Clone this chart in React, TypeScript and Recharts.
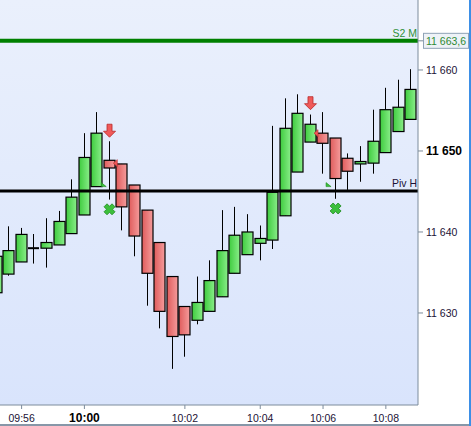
import {
  ComposedChart,
  Bar,
  Scatter,
  XAxis,
  YAxis,
  ReferenceLine,
} from "recharts";

// candle values, one per bar (tick bars, not evenly timed)
const opens = [
  11632.5, 11634.8, 11636.3, 11638.0, 11638.0, 11638.4, 11639.8, 11642.1, 11645.6,
  11648.85, 11648.4, 11645.8, 11642.7, 11638.7, 11634.5, 11630.8, 11629.1, 11630.2,
  11632.0, 11634.9, 11637.2, 11638.6, 11639.0, 11642.0, 11647.4, 11651.1, 11652.2,
  11651.6, 11649.1, 11648.4, 11648.5, 11649.8, 11652.4, 11653.9,
];
const highs = [
  11637.6, 11640.7, 11640.5, 11639.75, 11641.7, 11642.6, 11646.5, 11652.2, 11654.8,
  11651.2, 11648.4, 11645.8, 11642.7, 11638.7, 11634.5, 11630.8, 11634.5, 11636.5,
  11642.7, 11643.1, 11642.2, 11640.8, 11653.1, 11656.5, 11657.0, 11654.5, 11654.8,
  11651.6, 11649.7, 11650.6, 11655.1, 11657.8, 11658.8, 11660.1,
];
const lows = [
  11632.0, 11634.6, 11636.3, 11636.1, 11635.6, 11638.4, 11639.8, 11642.1, 11645.6,
  11644.0, 11640.2, 11637.0, 11630.9, 11628.1, 11623.1, 11624.6, 11628.6, 11630.2,
  11632.0, 11634.9, 11637.2, 11636.5, 11637.9, 11642.0, 11647.4, 11651.1, 11647.2,
  11644.1, 11645.2, 11646.2, 11647.2, 11649.8, 11652.4, 11653.9,
];
const closes = [
  11637.0, 11637.7, 11639.7, 11638.0, 11638.7, 11641.3, 11644.3, 11649.2, 11652.2,
  11647.9, 11643.1, 11639.5, 11634.9, 11630.2, 11627.1, 11627.3, 11631.3, 11634.0,
  11637.7, 11639.6, 11640.0, 11639.2, 11644.9, 11652.8, 11654.65, 11653.3, 11650.95,
  11646.6, 11647.5, 11648.7, 11651.2, 11655.1, 11655.4, 11657.6,
];

const tickIdx = [2, 7, 15, 21, 26, 31];
const tickLabels = ["09:56", "10:00", "10:02", "10:04", "10:06", "10:08"];
const yTicks = [11630, 11640, 11650, 11660];

const s2Level = 11663.6;
const pivLevel = 11645.05;

// signal markers (bar index, price)
const sellArrows = [
  { i: 9, v: 11652.5 },
  { i: 25, v: 11655.9 },
];
const buyCrosses = [
  { i: 9, v: 11642.8 },
  { i: 27, v: 11642.9 },
];
const greenFlags = [
  { i: 8.5, v: 11645.6 },
  { i: 26.4, v: 11645.6 },
];
const redFlags = [
  { i: 9.3, v: 11648.5 },
  { i: 25.28, v: 11652.2 },
];

const candles = opens.map((o, i) => ({
  i,
  open: o,
  high: highs[i],
  low: lows[i],
  close: closes[i],
}));

const FONT = "'Liberation Sans', Arial, sans-serif";
const TEXT = "#1c1236";
const BODY_W = 11;

function Candle(props: any) {
  const { x, y, width, height, payload } = props;
  const { open, close, high, low } = payload;
  const range = high - low;
  const toY = (p: number) => (range === 0 ? y : y + ((high - p) / range) * height);
  // band width gets squeezed by the marker series, so body width is fixed here
  const cx = Math.floor(x + width / 2) + 0.5;
  const left = cx - BODY_W / 2;
  const top = toY(Math.max(open, close));
  const bot = toY(Math.min(open, close));
  const flat = Math.abs(open - close) < 0.01;
  return (
    <g>
      <line x1={cx} x2={cx} y1={y} y2={y + height} stroke="#000" strokeWidth={1} />
      {flat ? (
        <line x1={left} x2={left + BODY_W} y1={top} y2={top} stroke="#000" strokeWidth={2} />
      ) : (
        <rect
          x={left}
          y={top}
          width={BODY_W}
          height={bot - top}
          fill={close > open ? "url(#gUp)" : "url(#gDown)"}
          stroke="#000"
          strokeWidth={1.2}
        />
      )}
    </g>
  );
}

function SellArrow({ cx, cy }: any) {
  return (
    <path
      d={`M${cx - 2.5},${cy - 6.5} h5 v7 h3.5 l-6,6 l-6,-6 h3.5 z`}
      fill="#f05a5a"
      stroke="#b82828"
      strokeWidth={0.8}
    />
  );
}

function BuyCross({ cx, cy }: any) {
  return (
    <path
      d={`M${cx - 5.5},${cy - 2.5} l3,-3 l2.5,2.5 l2.5,-2.5 l3,3 l-2.5,2.5 l2.5,2.5 l-3,3 l-2.5,-2.5 l-2.5,2.5 l-3,-3 l2.5,-2.5 z`}
      fill="#3cbf3c"
      stroke="#1f8a1f"
      strokeWidth={0.8}
      strokeLinejoin="round"
    />
  );
}

function GreenFlag({ cx, cy }: any) {
  return <path d={`M${cx - 2},${cy - 4} l5,4 h-5 z`} fill="#3cbf3c" stroke="#1f8a1f" strokeWidth={0.6} />;
}

function RedFlag({ cx, cy }: any) {
  return <path d={`M${cx},${cy} l4,-3.5 v7 z`} fill="#f05a5a" stroke="#b82828" strokeWidth={0.6} />;
}

function XTick({ x, y, payload }: any) {
  const label = tickLabels[tickIdx.indexOf(payload.value)];
  const bold = label === "10:00";
  return (
    <text
      x={x}
      y={y + 11}
      textAnchor="middle"
      fontFamily={FONT}
      fontSize={bold ? 12 : 10.5}
      fontWeight={bold ? "bold" : "normal"}
      fill={bold ? "#000" : TEXT}
    >
      {label}
    </text>
  );
}

function YTick({ x, y, payload }: any) {
  const bold = payload.value === 11650;
  const label = String(payload.value).replace(/^(\d\d)/, "$1 ");
  return (
    <text
      x={x}
      y={y + (bold ? 4.5 : 4)}
      textAnchor="start"
      fontFamily={FONT}
      fontSize={bold ? 12 : 10.5}
      fontWeight={bold ? "bold" : "normal"}
      fill={bold ? "#000" : TEXT}
    >
      {label}
    </text>
  );
}

function S2Label({ viewBox }: any) {
  const { x, y, width } = viewBox;
  const right = x + width;
  return (
    <g fontFamily={FONT} fontSize={10.5}>
      <text x={right - 1} y={y - 4} textAnchor="end" fill="#2f8f3a">
        S2 M
      </text>
      <line x1={right} x2={right + 5} y1={y} y2={y} stroke="#7d8c9c" />
      <rect x={right + 5.5} y={y - 7.5} width={45} height={15} fill="#eef2f7" stroke="#8fa2b5" />
      <text x={right + 8} y={y + 4} fill="#2f8a34">
        11 663,6
      </text>
    </g>
  );
}

function PivLabel({ viewBox }: any) {
  const { x, y, width } = viewBox;
  return (
    <text x={x + width - 1} y={y - 4} textAnchor="end" fontFamily={FONT} fontSize={10.5} fill={TEXT}>
      Piv H
    </text>
  );
}

export default function App() {
  return (
    <div style={{ position: "relative", width: 471, height: 426, background: "#fff", overflow: "hidden" }}>
      <style>{`body{margin:0}`}</style>
      <svg width={0} height={0} style={{ position: "absolute" }}>
        <defs>
          <linearGradient id="gUp" x1="0" x2="1" y1="0" y2="0">
            <stop offset="0%" stopColor="#3ecb3e" />
            <stop offset="100%" stopColor="#8aee8a" />
          </linearGradient>
          <linearGradient id="gDown" x1="0" x2="1" y1="0" y2="0">
            <stop offset="0%" stopColor="#df5c5c" />
            <stop offset="100%" stopColor="#f59c9c" />
          </linearGradient>
        </defs>
      </svg>
      <div
        style={{
          position: "absolute",
          left: 0,
          top: 0,
          width: 418,
          height: 405,
          background: "linear-gradient(#eaf0fc, #d9e4fc)",
        }}
      />
      <div style={{ position: "absolute", left: 0, top: 0 }}>
        <ComposedChart width={471} height={426} data={candles} margin={{ top: 0, right: 0, bottom: 0, left: 0 }}>
          <XAxis
            type="number"
            dataKey="i"
            domain={[0.28, 33.56]}
            allowDataOverflow
            ticks={tickIdx}
            interval={0}
            tick={<XTick />}
            tickSize={4}
            height={21}
            axisLine={{ stroke: "#7d8c9c" }}
            tickLine={{ stroke: "#7d8c9c" }}
          />
          <YAxis
            orientation="right"
            domain={[11618.64, 11668.64]}
            allowDataOverflow
            ticks={yTicks}
            interval={0}
            tick={<YTick />}
            tickSize={5}
            tickMargin={3}
            width={53}
            axisLine={{ stroke: "#7d8c9c" }}
            tickLine={{ stroke: "#7d8c9c" }}
          />
          <Bar
            dataKey={(d: any) => [d.low, d.high]}
            barSize={10}
            shape={<Candle />}
            isAnimationActive={false}
          />
          <ReferenceLine y={s2Level} stroke="#008000" strokeWidth={4} label={<S2Label />} />
          <ReferenceLine y={pivLevel} stroke="#000" strokeWidth={3} label={<PivLabel />} />
          <Scatter data={sellArrows} dataKey="v" shape={<SellArrow />} isAnimationActive={false} />
          <Scatter data={buyCrosses} dataKey="v" shape={<BuyCross />} isAnimationActive={false} />
          <Scatter data={greenFlags} dataKey="v" shape={<GreenFlag />} isAnimationActive={false} />
          <Scatter data={redFlags} dataKey="v" shape={<RedFlag />} isAnimationActive={false} />
        </ComposedChart>
      </div>
      <div style={{ position: "absolute", left: 0, top: 424, width: 471, height: 2, background: "#8797a8" }} />
      <div style={{ position: "absolute", left: 469, top: 0, width: 2, height: 426, background: "#3d8fe6" }} />
    </div>
  );
}
